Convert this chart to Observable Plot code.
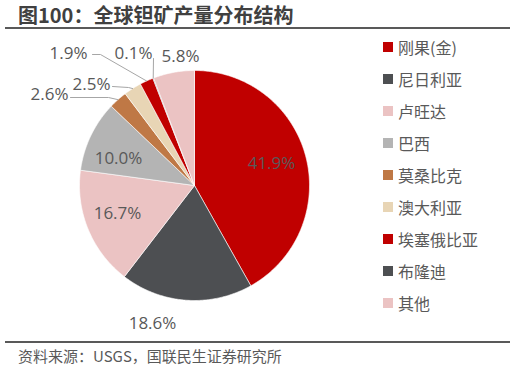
<!DOCTYPE html>
<html>
<head>
<meta charset="utf-8">
<script src="https://cdn.jsdelivr.net/npm/d3@7"></script>
<script src="https://cdn.jsdelivr.net/npm/@observablehq/plot@0.6"></script>
<style>
  html, body { margin: 0; padding: 0; background: #fff; }
  #page { position: relative; width: 516px; height: 369px; overflow: hidden; font-family: "Noto Sans CJK SC", "Noto Sans", sans-serif; color: #595959; }
  #title { position: absolute; left: 18px; top: 2px; font-size: 20px; font-weight: bold; color: #404040; line-height: 26px; white-space: nowrap; }
  .rule { position: absolute; left: 5px; width: 505px; height: 2px; background: #595959; }
  #chart { position: absolute; left: 0; top: 30px; }
  #legend { position: absolute; left: 383px; top: 0; }
  .item { position: absolute; left: 0; height: 20px; display: flex; align-items: center; white-space: nowrap; font-size: 16px; }
  .sw { width: 10px; height: 10px; margin-right: 5px; }
  #source { position: absolute; left: 18px; top: 346px; font-size: 15px; line-height: 20px; white-space: nowrap; }
</style>
</head>
<body>
<div id="page">
  <div id="title">图100：全球钽矿产量分布结构</div>
  <div class="rule" style="top:27px"></div>
  <div id="chart"></div>
  <div id="legend"></div>
  <div class="rule" style="top:341px"></div>
  <div id="source">资料来源：USGS，国联民生证券研究所</div>
</div>
<script>
// ---- data ----
const categories = ["刚果(金)", "尼日利亚", "卢旺达", "巴西", "莫桑比克", "澳大利亚", "埃塞俄比亚", "布隆迪", "其他"];
const shares = [41.9, 18.6, 16.7, 10.0, 2.6, 2.5, 1.9, 0.1, 5.8];
const colors = ["#C00000", "#4D4F52", "#EBC3C3", "#B4B4B4", "#BF7845", "#E8D5B5", "#C00000", "#4D4F52", "#EBC3C3"];

// ---- layout (pixels) ----
const R = 115;                 // pie radius in px
const CX = 194, CY = 155;      // pie centre inside the svg
// label centre offsets from pie centre (px), per category order
const labelOffsets = [[77, -22], [-42, 138], [-77, 28], [-76, -27], [-145, -91], [-103, -101], [-126, -132], [-61, -132], [-14, -129]];
// leader line start/elbow offsets (px), per category index; line ends on slice edge
const leaders = { 4: [[-124, -88], [-86, -88]], 5: [[-82, -99], [-66, -98]], 6: [[-102, -131], [-94, -131]], 7: [[-41, -127]] };

const arcs = d3.pie().sort(null).value(d => d)(shares);

// slice polygons
const slicePts = [];
arcs.forEach((a, i) => {
  const n = Math.max(2, Math.ceil((a.endAngle - a.startAngle) / 0.01));
  slicePts.push({cat: categories[i], x: 0, y: 0});
  for (let k = 0; k <= n; k++) {
    const t = a.startAngle + (a.endAngle - a.startAngle) * k / n;
    slicePts.push({cat: categories[i], x: Math.sin(t), y: Math.cos(t)});
  }
  slicePts.push({cat: categories[i], x: 0, y: 0});
});

// labels
const labelData = arcs.map((a, i) => ({
  text: shares[i].toFixed(1) + "%",
  x: labelOffsets[i][0] / R,
  y: -labelOffsets[i][1] / R
}));

// leader lines
const leaderPts = [];
Object.entries(leaders).forEach(([i, pts]) => {
  const a = arcs[+i];
  const mid = (a.startAngle + a.endAngle) / 2;
  pts.forEach(p => leaderPts.push({k: i, x: p[0] / R, y: -p[1] / R}));
  leaderPts.push({k: i, x: Math.sin(mid), y: Math.cos(mid)});
});

const chart = Plot.plot({
  width: 380,
  height: 310,
  margin: 0,
  x: {domain: [-1, 1], range: [CX - R, CX + R], axis: null},
  y: {domain: [-1, 1], range: [CY + R, CY - R], axis: null},
  color: {domain: categories, range: colors},
  style: {background: "transparent", fontFamily: "'Open Sans', 'Noto Sans', sans-serif"},
  marks: [
    Plot.line(slicePts, {x: "x", y: "y", z: "cat", fill: "cat", stroke: "white", strokeWidth: 0.6, curve: "linear"}),
    Plot.line(leaderPts, {x: "x", y: "y", z: "k", stroke: "#A6A6A6", strokeWidth: 1, curve: "linear"}),
    Plot.text(labelData, {x: "x", y: "y", text: "text", fill: "#595959", fontSize: 17})
  ]
});
document.getElementById("chart").appendChild(chart);

// legend
const legend = document.getElementById("legend");
categories.forEach((c, i) => {
  const item = document.createElement("div");
  item.className = "item";
  item.style.top = (37 + i * 32) + "px";
  const sw = document.createElement("span");
  sw.className = "sw";
  sw.style.background = colors[i];
  const t = document.createElement("span");
  t.textContent = c;
  item.appendChild(sw);
  item.appendChild(t);
  legend.appendChild(item);
});
</script>
</body>
</html>
